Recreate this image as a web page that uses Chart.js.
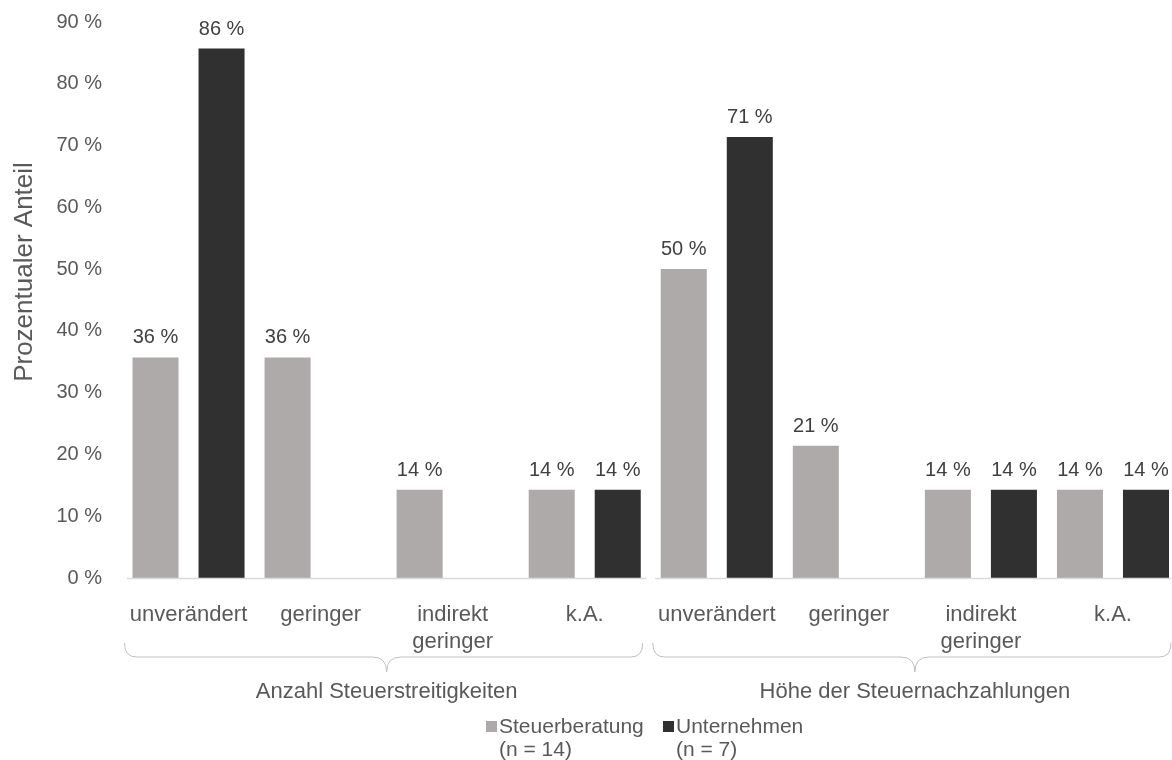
<!DOCTYPE html>
<html>
<head>
<meta charset="utf-8">
<script src="https://cdn.jsdelivr.net/npm/chart.js@4/dist/chart.umd.min.js"></script>
<style>
  html, body { margin: 0; padding: 0; background: #fff; overflow: hidden; }
  #wrap { width: 1172px; height: 760px; overflow: hidden; }
  canvas { display: block; }
</style>
</head>
<body>
<div id="wrap"><canvas id="chart" width="1179" height="760"></canvas></div>
<script>
// data
const categories = [
    ['unverändert'], ['geringer'], ['indirekt', 'geringer'], ['k.A.'],
    ['unverändert'], ['geringer'], ['indirekt', 'geringer'], ['k.A.']
];
const groups = ['Anzahl Steuerstreitigkeiten', 'Höhe der Steuernachzahlungen'];
const groupSize = 4;
const steuerberatung = [35.7, 35.7, 14.3, 14.3, 50.0, 21.4, 14.3, 14.3];
const unternehmen = [85.7, null, null, 14.3, 71.4, null, 14.3, 14.3];
const seriesNames = [['Steuerberatung', '(n = 14)'], ['Unternehmen', '(n = 7)']];
const seriesColors = ['#aeaaaa', '#303030'];
const yMax = 90;
const yStep = 10;

const FONT = "'Liberation Sans', Arial, sans-serif";
const TEXT = '#595959';

// value labels above the bars
const valueLabels = {
    id: 'valueLabels',
    afterDatasetsDraw(chart) {
        const ctx = chart.ctx;
        ctx.save();
        ctx.font = '20px ' + FONT;
        ctx.fillStyle = '#404040';
        ctx.textAlign = 'center';
        ctx.textBaseline = 'alphabetic';
        chart.data.datasets.forEach((ds, i) => {
            const meta = chart.getDatasetMeta(i);
            meta.data.forEach((bar, j) => {
                const v = ds.data[j];
                if (v === null || v === undefined) return;
                ctx.fillText(Math.round(v) + ' %', bar.x, bar.y - 14);
            });
        });
        ctx.restore();
    }
};

// split axis line, group brackets, group labels, y title, legend
const decorations = {
    id: 'decorations',
    afterDraw(chart) {
        const ctx = chart.ctx;
        const area = chart.chartArea;
        const catW = (area.right - area.left) / categories.length;
        ctx.save();

        groups.forEach((name, g) => {
            const start = area.left + g * groupSize * catW;
            const end = start + groupSize * catW;
            const cx = (start + end) / 2;

            // axis segment
            ctx.strokeStyle = '#d9d9d9';
            ctx.lineWidth = 1.5;
            ctx.beginPath();
            ctx.moveTo(start + 4.5, area.bottom + 0.5);
            ctx.lineTo(end - 4.5, area.bottom + 0.5);
            ctx.stroke();

            // bracket
            const x0 = start + 2, x1 = end - 8;
            const yTop = 643, yMid = 657, yTip = 672;
            ctx.strokeStyle = '#bfbfbf';
            ctx.lineWidth = 1;
            ctx.beginPath();
            ctx.moveTo(x0, yTop);
            ctx.quadraticCurveTo(x0, yMid, x0 + 12, yMid);
            ctx.lineTo(cx - 14, yMid);
            ctx.quadraticCurveTo(cx, yMid, cx, yTip);
            ctx.quadraticCurveTo(cx, yMid, cx + 14, yMid);
            ctx.lineTo(x1 - 12, yMid);
            ctx.quadraticCurveTo(x1, yMid, x1, yTop);
            ctx.stroke();

            // group label
            ctx.fillStyle = TEXT;
            ctx.font = '22px ' + FONT;
            ctx.textAlign = 'center';
            ctx.textBaseline = 'alphabetic';
            ctx.fillText(name, cx, 698);
        });

        // y axis title
        ctx.save();
        ctx.translate(25, 272);
        ctx.rotate(-Math.PI / 2);
        ctx.fillStyle = TEXT;
        ctx.font = '26px ' + FONT;
        ctx.textAlign = 'center';
        ctx.textBaseline = 'middle';
        ctx.fillText('Prozentualer Anteil', 0, 0);
        ctx.restore();

        // legend
        const legendX = [486, 663];
        ctx.font = '21px ' + FONT;
        ctx.textAlign = 'left';
        ctx.textBaseline = 'alphabetic';
        seriesNames.forEach((lines, i) => {
            ctx.fillStyle = seriesColors[i];
            ctx.fillRect(legendX[i], 721, 11, 11);
            ctx.fillStyle = TEXT;
            lines.forEach((t, k) => ctx.fillText(t, legendX[i] + 13, 733 + k * 23));
        });

        ctx.restore();
    }
};

new Chart(document.getElementById('chart').getContext('2d'), {
    type: 'bar',
    data: {
        labels: categories,
        datasets: [
            {
                label: seriesNames[0].join(' '),
                data: steuerberatung,
                backgroundColor: seriesColors[0],
                categoryPercentage: 1.0,
                barPercentage: 0.697
            },
            {
                label: seriesNames[1].join(' '),
                data: unternehmen,
                backgroundColor: seriesColors[1],
                categoryPercentage: 1.0,
                barPercentage: 0.697
            }
        ]
    },
    options: {
        responsive: false,
        animation: false,
        devicePixelRatio: 1,
        layout: { padding: { top: 22, right: 0, left: 0, bottom: 0 } },
        plugins: {
            legend: { display: false },
            tooltip: { enabled: false }
        },
        scales: {
            x: {
                grid: { display: false, drawTicks: false },
                border: { display: false },
                ticks: {
                    color: TEXT,
                    font: { family: FONT, size: 22, lineHeight: 1.2 },
                    padding: 24,
                    maxRotation: 0,
                    autoSkip: false
                },
                afterFit(scale) { scale.height = 182; }
            },
            y: {
                min: 0,
                max: yMax,
                grid: { display: false, drawTicks: false },
                border: { display: false },
                ticks: {
                    stepSize: yStep,
                    color: TEXT,
                    font: { family: FONT, size: 20 },
                    padding: 20.5,
                    callback: v => v + ' %'
                },
                afterFit(scale) {
                    scale.width = 122.5;
                    scale.paddingTop = 0;
                    scale.paddingBottom = 0;
                }
            }
        }
    },
    plugins: [valueLabels, decorations]
});
</script>
</body>
</html>
